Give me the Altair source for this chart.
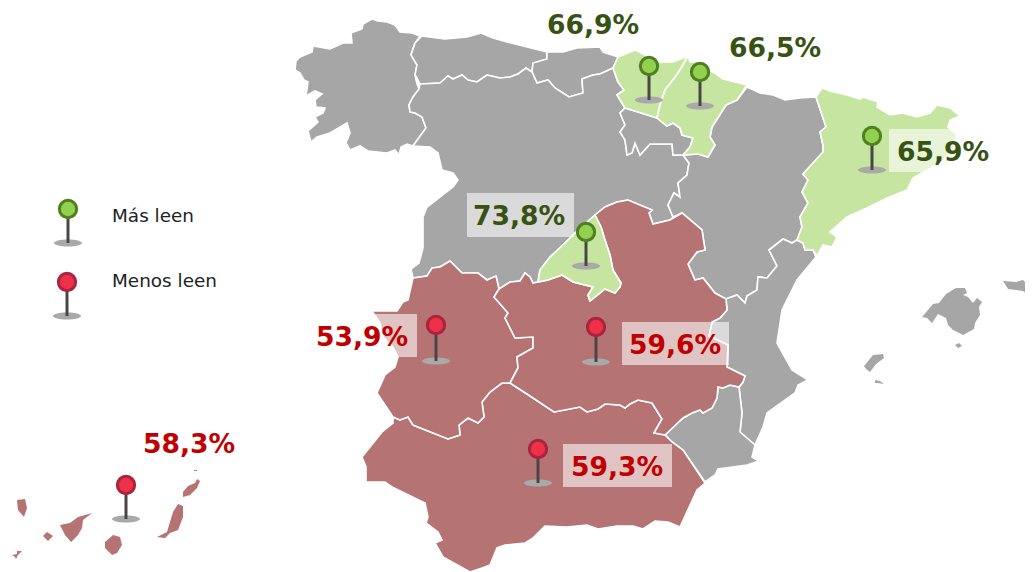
import altair as alt
import pandas as pd

# Region outlines (pixel coordinates of the map drawing)
galicia = [(420,36),(412,33),(400,32),(395,25),(387,22),(378,21),(372,19),(363,24),(362,29),(351,33),(352,43),(343,43),(330,49),(313,46),(312,52),(300,57),(296,61),(295,70),(300,73),(304,80),(308,82),(306,96),(315,91),(322,94),(315,100),(316,107),(325,108),(323,113),(315,117),(318,122),(308,131),(311,142),(317,137),(330,133),(347,123),(350,133),(346,143),(350,150),(360,146),(368,151),(387,153),(395,150),(399,155),(401,147),(407,144),(413,146),(426,128),(422,117),(415,113),(410,112),(409,105),(413,97),(419,89),(417,84),(415,75),(417,65),(411,55),(415,43)]
asturias = [(422,36),(437,38),(445,39),(467,37),(481,33),(493,38),(507,42),(547,52),(547,59),(533,63),(532,72),(526,68),(518,74),(510,77),(500,78),(487,75),(477,82),(468,80),(462,75),(453,79),(448,76),(440,83),(420,84),(417,78),(415,75),(417,65),(411,55),(415,43)]
cantabria = [(547,52),(563,52),(577,48),(600,47),(603,52),(618,57),(613,68),(600,74),(593,75),(582,79),(583,93),(569,97),(555,88),(548,80),(537,83),(532,72),(533,63),(547,59)]
castilla_leon = [(420,84),(440,83),(448,76),(453,79),(462,75),(468,80),(477,82),(487,75),(500,78),(510,77),(518,74),(526,68),(532,72),(537,83),(548,80),(555,88),(569,97),(583,93),(582,79),(593,75),(600,74),(613,68),(618,82),(624,90),(617,95),(625,108),(620,113),(625,125),(620,132),(625,140),(627,155),(632,153),(635,143),(640,155),(650,144),(672,144),(673,155),(683,155),(689,163),(687,175),(678,183),(680,197),(674,193),(668,205),(673,217),(670,220),(653,224),(649,213),(652,210),(628,200),(617,202),(605,207),(595,215),(575,233),(565,243),(550,257),(540,270),(538,282),(533,283),(530,277),(525,273),(520,281),(510,282),(499,289),(496,276),(487,280),(478,273),(462,273),(450,261),(440,267),(432,268),(427,276),(413,278),(411,269),(419,263),(423,248),(423,217),(427,207),(453,187),(458,180),(453,173),(442,170),(438,153),(430,147),(413,146),(426,128),(422,117),(415,113),(410,112),(409,105),(413,97),(419,89)]
la_rioja = [(625,108),(638,112),(657,118),(667,126),(673,123),(680,128),(682,135),(693,138),(690,147),(683,155),(673,155),(672,144),(650,144),(640,155),(635,143),(632,153),(627,155),(625,140),(620,132),(625,125),(620,113)]
pais_vasco = [(618,57),(635,50),(645,55),(657,62),(673,62),(688,56),(680,70),(673,80),(665,90),(660,105),(657,118),(638,112),(625,108),(617,95),(624,90),(618,82),(613,68)]
navarra = [(688,56),(690,62),(705,62),(708,70),(715,73),(723,79),(747,85),(737,100),(726,105),(712,127),(710,137),(715,145),(708,157),(698,154),(683,155),(690,147),(693,138),(682,135),(680,128),(673,123),(667,126),(657,118),(660,105),(665,90),(673,80),(680,70)]
aragon = [(747,87),(760,93),(773,95),(785,100),(800,98),(816,97),(826,127),(820,132),(823,145),(823,152),(803,174),(808,180),(802,192),(808,203),(800,217),(802,227),(797,240),(792,243),(783,239),(769,250),(777,266),(767,278),(758,277),(757,290),(747,296),(745,303),(737,295),(726,299),(715,293),(703,278),(695,280),(688,264),(697,252),(705,250),(702,230),(682,213),(673,217),(668,205),(674,193),(680,197),(678,183),(687,175),(689,163),(683,155),(698,154),(708,157),(715,145),(710,137),(712,127),(726,105),(737,100)]
cataluna = [(816,97),(822,88),(830,91),(847,95),(860,99),(863,97),(878,102),(877,107),(890,115),(903,113),(917,117),(930,113),(937,105),(950,108),(960,116),(950,120),(948,127),(957,135),(953,150),(940,163),(927,170),(913,178),(907,190),(887,198),(867,208),(847,217),(830,232),(837,237),(832,247),(823,245),(817,256),(813,250),(805,250),(803,243),(797,240),(802,227),(800,217),(808,203),(802,192),(808,180),(803,174),(823,152),(823,145),(820,132),(826,127)]
valencia = [(797,240),(803,243),(805,250),(813,250),(816,257),(797,280),(782,310),(777,343),(792,370),(808,380),(798,385),(795,393),(767,413),(763,427),(755,445),(740,432),(742,413),(739,387),(743,382),(745,376),(727,367),(728,345),(709,336),(712,322),(720,318),(727,310),(726,299),(737,295),(745,303),(747,296),(757,290),(758,277),(767,278),(777,266),(769,250),(783,239),(792,243)]
murcia = [(739,387),(730,385),(723,388),(718,387),(717,398),(712,408),(703,413),(700,410),(692,413),(683,418),(665,435),(672,442),(683,450),(705,482),(715,475),(718,469),(747,465),(759,461),(752,457),(755,445),(740,432),(742,413)]
andalucia = [(665,435),(654,433),(662,419),(652,403),(638,400),(630,404),(625,408),(620,405),(605,404),(598,409),(587,412),(580,407),(554,412),(527,394),(510,383),(502,383),(490,392),(482,402),(484,417),(478,423),(468,418),(459,425),(460,435),(448,439),(413,425),(408,417),(400,420),(393,417),(393,423),(382,432),(362,457),(366,467),(366,482),(385,482),(392,487),(425,503),(428,517),(426,523),(438,532),(442,540),(435,543),(443,557),(470,572),(482,568),(490,565),(497,548),(505,545),(525,543),(533,538),(545,526),(567,527),(587,525),(598,529),(617,526),(633,526),(643,529),(655,521),(668,522),(680,527),(697,490),(705,483),(683,450),(672,442)]
extremadura = [(413,278),(427,276),(432,268),(440,267),(450,261),(462,273),(478,273),(487,280),(496,276),(499,289),(494,297),(508,313),(505,318),(515,338),(533,337),(533,348),(517,357),(518,368),(510,383),(502,383),(490,392),(482,402),(484,417),(478,423),(468,418),(459,425),(460,435),(448,439),(413,425),(408,417),(400,420),(393,417),(383,402),(377,393),(385,375),(395,367),(398,357),(393,347),(383,337),(380,323),(372,311),(397,311),(403,302),(408,300)]
castilla_mancha = [(595,215),(605,207),(617,202),(628,200),(652,210),(649,213),(653,224),(670,220),(682,213),(702,230),(705,250),(697,252),(688,264),(695,280),(703,278),(715,293),(726,299),(727,310),(720,318),(712,322),(709,336),(728,345),(727,367),(745,376),(743,382),(739,387),(730,385),(723,388),(718,387),(717,398),(712,408),(703,413),(700,410),(692,413),(683,418),(665,435),(654,433),(662,419),(652,403),(638,400),(630,404),(625,408),(620,405),(605,404),(598,409),(587,412),(580,407),(554,412),(527,394),(510,383),(518,368),(517,357),(533,348),(533,337),(515,338),(505,318),(508,313),(494,297),(499,289),(510,282),(520,281),(525,273),(530,277),(533,283),(538,282),(548,280),(562,275),(573,282),(593,287),(588,295),(590,301),(605,289),(615,293),(620,287),(621,283),(613,270),(610,255),(605,240),(601,227)]
madrid = [(595,215),(601,227),(605,240),(610,255),(613,270),(621,283),(620,287),(615,293),(605,289),(590,301),(588,295),(593,287),(573,282),(562,275),(548,280),(538,282),(540,270),(550,257),(565,243),(575,233)]
mallorca = [(922,317),(928,310),(933,304),(939,303),(946,294),(956,288),(965,288),(967,293),(963,295),(968,297),(973,303),(977,298),(982,302),(979,307),(980,315),(975,323),(974,329),(963,335),(953,330),(948,325),(946,318),(938,314),(932,323),(927,318)]
cabrera = [(955,345),(959,343),(962,346),(958,348)]
menorca = [(1003,281),(1016,282),(1023,280),(1028,285),(1031,297),(1023,291),(1008,289),(1005,284)]
ibiza = [(864,366),(869,360),(873,355),(883,354),(884,358),(876,364),(870,372),(866,369)]
formentera = [(875,380),(880,381),(884,384),(878,383),(875,383)]
la_palma = [(17,500),(25,499),(27,508),(24,517),(18,510)]
la_gomera = [(43,536),(47,532),(53,536),(48,541)]
el_hierro = [(12,555),(17,554),(17,551),(22,551),(18,555),(16,559),(15,557)]
tenerife = [(60,525),(70,523),(78,517),(92,513),(83,520),(82,528),(78,535),(71,542),(65,535)]
gran_canaria = [(113,535),(120,537),(122,545),(117,553),(112,555),(105,548),(105,542)]
fuerteventura = [(178,504),(183,506),(183,517),(178,530),(170,533),(165,538),(157,537),(167,532),(170,522),(173,512)]
lanzarote = [(183,492),(188,486),(195,483),(197,479),(200,481),(197,488),(190,495),(183,497)]
la_graciosa = [(194,470),(197,470),(197,471),(194,471)]

grey_regions = [galicia, asturias, cantabria, castilla_leon, la_rioja, aragon, valencia, murcia]
green_regions = [pais_vasco, navarra, cataluna, madrid]
red_regions = [andalucia, extremadura, castilla_mancha]
grey_islands = [mallorca, cabrera, menorca, ibiza, formentera]
red_islands = [la_palma, la_gomera, el_hierro, tenerife, gran_canaria, fuerteventura, lanzarote, la_graciosa]

# Pins
pin_x = [649, 700, 872, 586, 436, 596, 538, 126, 68, 67]
pin_head_y = [66, 72, 136, 232, 325, 327, 449, 485, 209, 282]
pin_base_y = [100, 106, 170, 266, 361, 362, 483, 519, 243, 316]
pin_kind = ["mas", "mas", "mas", "mas", "menos", "menos", "menos", "menos", "mas", "menos"]

# Percentage labels
label_text = ["66,9%", "66,5%", "65,9%", "73,8%", "53,9%", "59,6%", "59,3%", "58,3%"]
label_x = [593, 775, 943, 519, 362, 675, 617, 189]
label_y = [26, 49, 153, 217, 338, 346, 468, 445]
label_kind = ["mas", "mas", "mas", "mas", "menos", "menos", "menos", "menos"]

# Boxes behind labels
box_x = [889, 467, 309, 622, 563]
box_x2 = [997, 574, 417, 729, 672]
box_y = [129, 193, 314, 322, 444]
box_y2 = [172, 237, 357, 365, 487]

# Legend
legend_text = ["Más leen", "Menos leen"]
legend_x = [112, 112]
legend_y = [216, 281]

GREY, GREEN, RED = "#a6a6a6", "#c5e5a0", "#b57373"
X = alt.X("x:Q", scale=alt.Scale(domain=[8, 1025]), axis=None)
Y = alt.Y("y:Q", scale=alt.Scale(domain=[8, 572], reverse=True), axis=None)
Y2 = alt.Y2("y2:Q")
ELLIPSE = "M-1,0 A1,0.25 0 1,0 1,0 A1,0.25 0 1,0 -1,0 Z"


def features(rings, fill):
    return [{"type": "Feature", "properties": {"fill": fill},
             "geometry": {"type": "Polygon",
                          "coordinates": [[list(p) for p in r] + [list(r[0])]]}}
            for r in rings]


def geo(rings, fill, **kw):
    return (alt.Chart(alt.Data(values=features(rings, fill)))
            .mark_geoshape(fill=fill, **kw)
            .project(type="identity", scale=1, translate=[-8, -8]))


boxes = pd.DataFrame({"x": box_x, "x2": box_x2, "y": box_y, "y2": box_y2})
pins = pd.DataFrame({"x": pin_x, "y": pin_head_y, "y2": pin_base_y, "kind": pin_kind})
labels = pd.DataFrame({"x": label_x, "y": label_y, "t": label_text, "kind": label_kind})
legend = pd.DataFrame({"x": legend_x, "y": legend_y, "t": legend_text})

edge = alt.Scale(domain=["mas", "menos"], range=["#4f7f1f", "#a8243f"])
head = alt.Scale(domain=["mas", "menos"], range=["#92d14f", "#ef3049"])
ink = alt.Scale(domain=["mas", "menos"], range=["#375213", "#c00000"])

map_layers = [
    geo(grey_regions, GREY, stroke="white", strokeWidth=1.6),
    geo(red_regions, RED, stroke="white", strokeWidth=1.6),
    geo(green_regions, GREEN, stroke="white", strokeWidth=1.6),
    geo(grey_islands, GREY),
    geo(red_islands, RED),
]

box_layer = alt.Chart(boxes).mark_rect(color="white", opacity=0.58).encode(
    x=X, x2=alt.X2("x2:Q"), y=Y, y2=Y2)
shadow_layer = alt.Chart(pins).mark_point(
    shape=ELLIPSE, filled=True, color="#a9a9a9", opacity=1, size=784, strokeWidth=0
).encode(x=X, y=alt.Y("y2:Q", scale=alt.Scale(domain=[8, 572], reverse=True), axis=None))
pole_layer = alt.Chart(pins).mark_rule(color="#4a4646", strokeWidth=3).encode(x=X, y=Y, y2=Y2)
head_layer = alt.Chart(pins).mark_point(filled=False, shape="circle", size=300, strokeWidth=3, opacity=1).encode(
    x=X, y=Y,
    fill=alt.Fill("kind:N", scale=head, legend=None),
    stroke=alt.Stroke("kind:N", scale=edge, legend=None),
)
label_layer = alt.Chart(labels).mark_text(
    font="DejaVu Sans", fontWeight="bold", fontSize=26.6, align="center", baseline="middle"
).encode(x=X, y=Y, text="t:N", color=alt.Color("kind:N", scale=ink, legend=None))
legend_layer = alt.Chart(legend).mark_text(
    font="DejaVu Sans", fontSize=18.4, align="left", baseline="middle", color="#222222"
).encode(x=X, y=Y, text="t:N")

chart = (
    alt.layer(*map_layers, box_layer, shadow_layer, pole_layer, head_layer, label_layer, legend_layer)
    .resolve_scale(color="independent", fill="independent", stroke="independent")
    .properties(width=1017, height=564, padding=0, autosize="none",
                view=alt.ViewConfig(stroke=None))
)
chart.save("out.html", embed_options={"renderer": "svg", "actions": False})
